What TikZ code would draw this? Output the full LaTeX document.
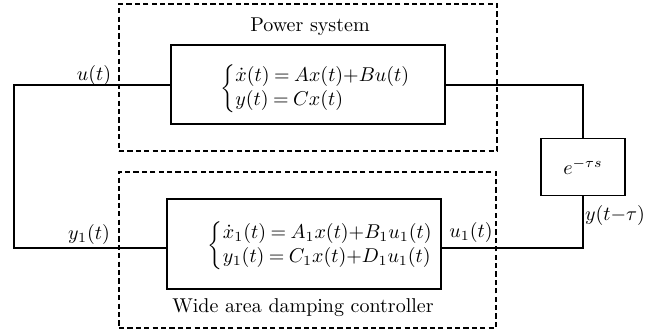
\documentclass[tikz,border=0pt]{standalone}
\usepackage{amsmath}
\begin{document}
\begin{tikzpicture}[x=0.5pt,y=-0.5pt,
  wire/.style={line width=0.6pt},
  block/.style={draw,line width=0.6pt,rectangle,inner sep=0pt},
  group/.style={draw,line width=0.55pt,dash pattern=on 2.6pt off 1.6pt,rectangle,inner sep=0pt},
  sig/.style={font=\normalsize,inner sep=0pt},
  caption/.style={font=\normalsize,inner sep=0pt},
  eqn/.style={inner sep=0pt,font=\fontsize{9.6}{12}\selectfont}]
\useasboundingbox (0,0) rectangle (660,334);

% dashed groupings
\node[group,minimum width=189pt,minimum height=73.5pt] (top) at (308,77.5) {};
\node[group,minimum width=188.5pt,minimum height=78pt] (bot) at (307.5,250) {};
\node[caption] (ptitle) at (310,27) {Power system};
\node[caption] (ctitle) at (303,308) {Wide area damping controller};

% blocks
\node[block,minimum width=137pt,minimum height=39.5pt] (plant) at (308,84.5) {};
\node[block,minimum width=137pt,minimum height=45pt] (ctrl) at (304,244) {};
\node[block,minimum width=42pt,minimum height=28.5pt] (delay) at (583,167) {$e^{-\tau s}$};

% block equations
\node[eqn] (peq) at (316,89) {$\thickmuskip=4mu\left\{\begin{array}{@{}l@{}}
  \dot{x}(t) = Ax(t){+}Bu(t)\\
  y(t) = Cx(t)
\end{array}\right.$};
\node[eqn] (ceq) at (321,246) {$\thickmuskip=4mu\left\{\begin{array}{@{}l@{}}
  \dot{x}_1(t) = A_1x(t){+}B_1u_1(t)\\
  y_1(t) = C_1x(t){+}D_1u_1(t)
\end{array}\right.$};

% loop corners
\coordinate (lt) at (14,85);
\coordinate (lb) at (14,248);
\coordinate (rt) at (583,85);
\coordinate (rb) at (583,248);

% connectors
\draw[wire] (plant.west |- lt) -- (lt) -- (lb) -- (ctrl.west |- lb);
\draw[wire] (plant.east |- rt) -- (rt) -- (delay.north);
\draw[wire] (delay.south) -- (rb) -- (ctrl.east |- rb);

% signal labels
\node[sig] (lu) at (94,75) {$u(t)$};
\node[sig] (ly1) at (89,234) {$y_1(t)$};
\node[sig] (lu1) at (471,232) {$u_1(t)$};
\node[sig] (lyd) at (615,215) {$y(t{-}\tau)$};
\end{tikzpicture}
\end{document}
